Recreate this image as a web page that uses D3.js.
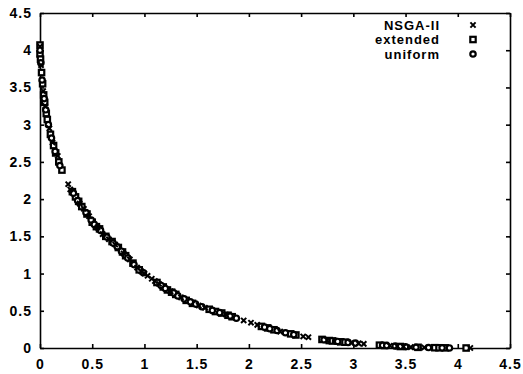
<!DOCTYPE html>
<html>
<head>
<meta charset="utf-8">
<script src="https://cdn.jsdelivr.net/npm/d3@7"></script>
<style>
  body { margin: 0; background: #fff; }
  text { font-family: "Liberation Sans", Arial, sans-serif; font-weight: bold; fill: #000; }
</style>
</head>
<body>
<div id="chart"></div>
<script>
// tick labels
var xTicks = [0, 0.5, 1, 1.5, 2, 2.5, 3, 3.5, 4, 4.5];
var yTicks = [0, 0.5, 1, 1.5, 2, 2.5, 3, 3.5, 4, 4.5];

// legend entries
var seriesNames = ["NSGA-II", "extended", "uniform"];

// [f1, f2] points
var nsga = [[0.0,4.05],[0.01,3.8],[0.03,3.45],[0.05,3.25],[0.09,2.95],[0.12,2.76],[0.17,2.58],
  [0.27,2.2],[0.29,2.13],[0.38,1.94],[0.42,1.87],[0.47,1.77],[0.55,1.62],[0.6,1.53],[0.66,1.46],
  [0.72,1.39],[0.8,1.27],[0.86,1.19],[0.93,1.08],[0.97,1.03],[1.0,1.0],[1.03,0.97],[1.07,0.93],
  [1.1,0.9],[1.14,0.86],[1.25,0.76],[1.35,0.68],[1.52,0.57],[1.58,0.54],[1.78,0.45],[1.95,0.37],
  [2.02,0.34],[2.08,0.31],[2.3,0.22],[2.52,0.155],[2.57,0.145],[2.75,0.105],[2.98,0.07],
  [3.05,0.062],[3.1,0.055],[3.35,0.03],[3.42,0.025],[3.48,0.018],[3.55,0.012],[3.68,0.007],[4.12,0.0]];

var extended = [[0.0,4.07],[0.0,3.95],[0.005,3.88],[0.015,3.7],[0.025,3.55],[0.035,3.4],[0.045,3.3],
  [0.06,3.15],[0.07,3.07],[0.1,2.87],[0.13,2.72],[0.15,2.62],[0.18,2.5],[0.21,2.39],[0.31,2.1],
  [0.34,2.03],[0.37,1.97],[0.4,1.9],[0.45,1.8],[0.5,1.69],[0.54,1.63],[0.57,1.6],[0.63,1.5],
  [0.69,1.43],[0.75,1.35],[0.79,1.29],[0.82,1.24],[0.89,1.14],[0.95,1.05],[1.12,0.88],[1.18,0.82],
  [1.22,0.78],[1.26,0.75],[1.3,0.72],[1.4,0.64],[1.46,0.6],[1.62,0.52],[1.68,0.49],[1.74,0.47],
  [1.8,0.44],[1.84,0.42],[2.12,0.29],[2.18,0.27],[2.24,0.245],[2.4,0.19],[2.45,0.175],[2.7,0.115],
  [2.77,0.1],[2.8,0.095],[2.88,0.083],[2.92,0.078],[3.25,0.038],[3.3,0.034],[3.45,0.02],
  [3.62,0.009],[3.78,0.004],[3.82,0.003],[3.88,0.002],[4.08,0.0]];

var uniform = [[0.0,4.0],[0.008,3.83],[0.02,3.6],[0.04,3.35],[0.055,3.2],[0.08,3.0],[0.11,2.82],
  [0.145,2.64],[0.19,2.45],[0.32,2.08],[0.36,1.98],[0.44,1.82],[0.49,1.72],[0.52,1.66],[0.58,1.58],
  [0.64,1.49],[0.7,1.41],[0.74,1.36],[0.78,1.3],[0.84,1.21],[0.9,1.12],[0.99,1.01],[1.16,0.84],
  [1.2,0.8],[1.28,0.74],[1.32,0.7],[1.38,0.66],[1.44,0.62],[1.49,0.59],[1.55,0.555],[1.65,0.505],
  [1.72,0.475],[1.82,0.43],[1.88,0.4],[2.15,0.28],[2.2,0.26],[2.27,0.235],[2.35,0.205],
  [2.43,0.18],[2.72,0.11],[2.83,0.09],[2.85,0.088],[2.95,0.075],[3.02,0.066],[3.28,0.036],
  [3.32,0.033],[3.4,0.026],[3.5,0.016],[3.6,0.01],[3.72,0.006],[3.85,0.003],[3.92,0.001]];

var margin = { top: 13, right: 13, bottom: 26, left: 40 },
    width = 523 - margin.left - margin.right,
    height = 374 - margin.top - margin.bottom;

var svg = d3.select("#chart")
  .append("svg")
  .attr("width", 523)
  .attr("height", 374)
  .append("g")
  .attr("transform", "translate(" + margin.left + "," + margin.top + ")");

var x = d3.scaleLinear().domain([0, 4.5]).range([0, width]);
var y = d3.scaleLinear().domain([0, 4.5]).range([height, 0]);

// axes, ticks pointing inward on all four sides
svg.append("g")
  .attr("class", "axis")
  .attr("transform", "translate(0," + height + ")")
  .call(d3.axisBottom(x).tickValues(xTicks).tickFormat(function (d) { return d; })
    .tickSizeInner(-4).tickSizeOuter(0).tickPadding(11));
svg.append("g")
  .attr("class", "axis")
  .call(d3.axisLeft(y).tickValues(yTicks).tickFormat(function (d) { return d; })
    .tickSizeInner(-4).tickSizeOuter(0).tickPadding(8));
svg.append("g")
  .attr("class", "axis")
  .call(d3.axisTop(x).tickValues(xTicks).tickFormat("").tickSizeInner(-4).tickSizeOuter(0));
svg.append("g")
  .attr("class", "axis")
  .attr("transform", "translate(" + width + ",0)")
  .call(d3.axisRight(y).tickValues(yTicks).tickFormat("").tickSizeInner(-4).tickSizeOuter(0));

svg.selectAll(".axis path, .axis line").attr("stroke", "#000").attr("stroke-width", 1.6);
svg.selectAll(".axis text")
  .style("font-size", "14px")
  .style("letter-spacing", "1px")
  .attr("fill", "#000");

// marker drawers
function drawCross(g) {
  g.append("path")
    .attr("d", "M-2.6,-2.6L2.6,2.6M-2.6,2.6L2.6,-2.6")
    .attr("stroke", "#000").attr("stroke-width", 2).attr("fill", "none");
}
function drawSquare(g) {
  g.append("rect")
    .attr("x", -2.7).attr("y", -2.7).attr("width", 5.4).attr("height", 5.4)
    .attr("stroke", "#000").attr("stroke-width", 2.2).attr("fill", "#fff");
}
function drawCircle(g) {
  g.append("circle")
    .attr("r", 2.7)
    .attr("stroke", "#000").attr("stroke-width", 2.2).attr("fill", "#fff");
}

function plotSeries(data, drawer) {
  svg.append("g").selectAll("g")
    .data(data)
    .enter()
    .append("g")
    .attr("transform", function (d) { return "translate(" + x(d[0]) + "," + y(d[1]) + ")"; })
    .each(function () { drawer(d3.select(this)); });
}

plotSeries(extended, drawSquare);
plotSeries(uniform, drawCircle);
plotSeries(nsga, drawCross);

// legend
var drawers = [drawCross, drawSquare, drawCircle];
var legend = svg.append("g").attr("transform", "translate(" + (440 - margin.left) + "," + (25 - margin.top) + ")");
seriesNames.forEach(function (name, i) {
  legend.append("text")
    .attr("x", 0)
    .attr("y", i * 14.5)
    .attr("dy", "0.35em")
    .attr("text-anchor", "end")
    .style("font-size", "13px")
    .style("letter-spacing", "1px")
    .text(name);
  var m = legend.append("g").attr("transform", "translate(33," + (i * 14.5) + ")");
  drawers[i](m);
});
</script>
</body>
</html>
